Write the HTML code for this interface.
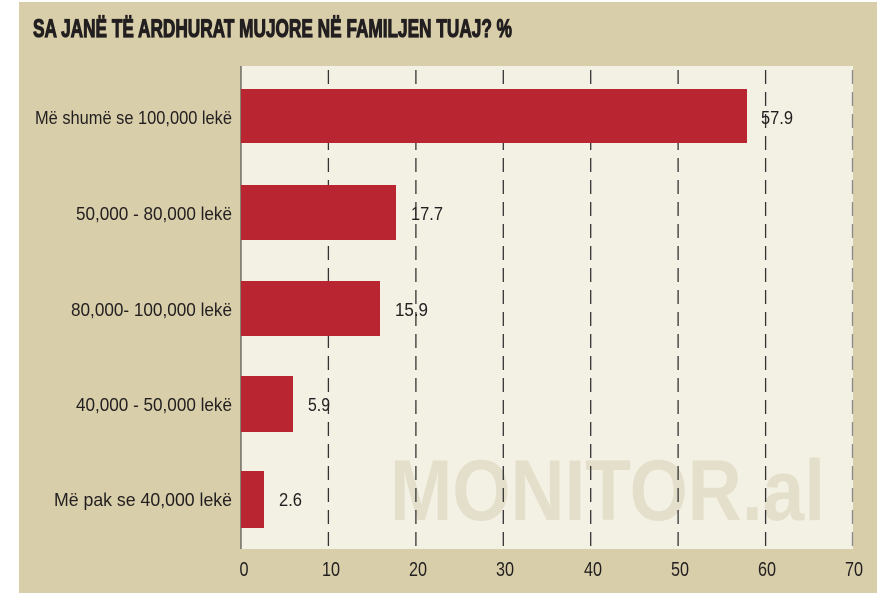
<!DOCTYPE html>
<html><head><meta charset="utf-8"><style>
html,body{margin:0;padding:0;background:#fff;}
svg{display:block;}
text{font-family:"Liberation Sans Narrow","Liberation Sans",sans-serif;fill:#231f20;}
</style></head><body>
<svg width="884" height="603" viewBox="0 0 884 603" xmlns="http://www.w3.org/2000/svg">
<rect x="19" y="2" width="858" height="591" fill="#d8cfaa"/>
<text x="33" y="37" font-size="25" font-weight="bold" textLength="479" lengthAdjust="spacingAndGlyphs" style="stroke:#231f20;stroke-width:1.2">SA JANË TË ARDHURAT MUJORE NË FAMILJEN TUAJ?  %</text>
<rect x="241" y="66" width="612" height="483" fill="#f3f0e4"/>
<text x="390" y="520" font-size="86" font-weight="bold" textLength="435" lengthAdjust="spacingAndGlyphs" style="fill:#e4dfcb">MONITOR.al</text>
<g stroke="#333" stroke-width="1.3" stroke-dasharray="14,8">
<line x1="328.4" y1="70" x2="328.4" y2="549"/>
<line x1="415.9" y1="70" x2="415.9" y2="549"/>
<line x1="503.3" y1="70" x2="503.3" y2="549"/>
<line x1="590.7" y1="70" x2="590.7" y2="549"/>
<line x1="678.1" y1="70" x2="678.1" y2="549"/>
<line x1="765.6" y1="70" x2="765.6" y2="549"/>
<line x1="852.5" y1="70" x2="852.5" y2="549" stroke="#888"/>
</g>
<line x1="241" y1="66" x2="241" y2="549" stroke="#333" stroke-width="1"/>
<g fill="#b92631">
<rect x="241" y="89" width="506" height="54"/>
<rect x="241" y="185" width="155" height="55"/>
<rect x="241" y="281" width="139" height="55"/>
<rect x="241" y="376" width="52" height="56"/>
<rect x="241" y="471" width="23" height="57"/>
</g>
<g font-size="18" lengthAdjust="spacingAndGlyphs">
<text x="761" y="124" textLength="32" lengthAdjust="spacingAndGlyphs">57.9</text>
<text x="411" y="220" textLength="32" lengthAdjust="spacingAndGlyphs">17.7</text>
<text x="395" y="316" textLength="33" lengthAdjust="spacingAndGlyphs">15.9</text>
<text x="308" y="411" textLength="22" lengthAdjust="spacingAndGlyphs">5.9</text>
<text x="279" y="506" textLength="23" lengthAdjust="spacingAndGlyphs">2.6</text>
</g>
<g font-size="18" text-anchor="end">
<text x="232" y="124" textLength="197" lengthAdjust="spacingAndGlyphs">Më shumë se 100,000 lekë</text>
<text x="232" y="220" textLength="156" lengthAdjust="spacingAndGlyphs">50,000 - 80,000 lekë</text>
<text x="232" y="316" textLength="161" lengthAdjust="spacingAndGlyphs">80,000- 100,000 lekë</text>
<text x="232" y="411" textLength="156" lengthAdjust="spacingAndGlyphs">40,000 - 50,000 lekë</text>
<text x="232" y="506" textLength="178" lengthAdjust="spacingAndGlyphs">Më pak se 40,000 lekë</text>
</g>
<g font-size="20" text-anchor="middle">
<text x="244" y="576" textLength="9" lengthAdjust="spacingAndGlyphs">0</text>
<text x="331" y="576" textLength="18" lengthAdjust="spacingAndGlyphs">10</text>
<text x="418" y="576" textLength="18" lengthAdjust="spacingAndGlyphs">20</text>
<text x="505" y="576" textLength="18" lengthAdjust="spacingAndGlyphs">30</text>
<text x="593" y="576" textLength="18" lengthAdjust="spacingAndGlyphs">40</text>
<text x="680" y="576" textLength="18" lengthAdjust="spacingAndGlyphs">50</text>
<text x="767" y="576" textLength="18" lengthAdjust="spacingAndGlyphs">60</text>
<text x="854" y="576" textLength="18" lengthAdjust="spacingAndGlyphs">70</text>
</g>
</svg>
</body></html>
